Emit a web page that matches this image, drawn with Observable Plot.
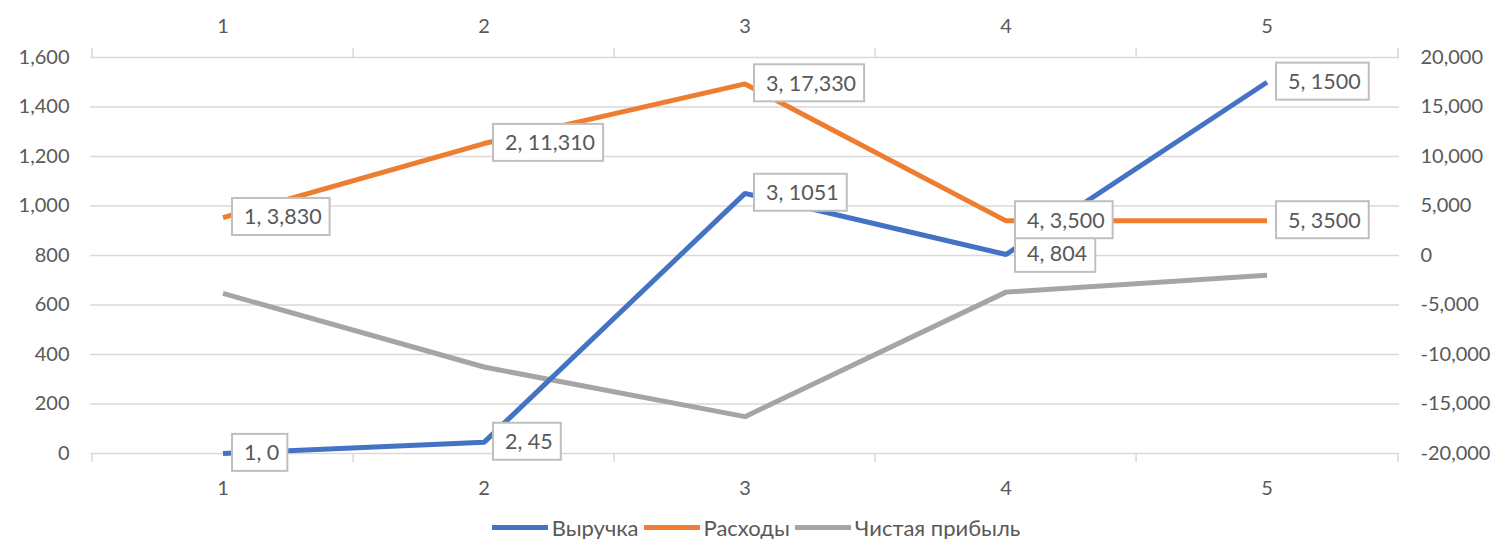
<!DOCTYPE html>
<html>
<head>
<meta charset="utf-8">
<script src="https://cdn.jsdelivr.net/npm/d3@7"></script>
<script src="https://cdn.jsdelivr.net/npm/@observablehq/plot@0.6"></script>
<style>
  body { margin: 0; background: #fff; font-family: Lato, sans-serif; }
  #chart { position: relative; width: 1496px; height: 539px; }
  #legend { position: absolute; left: 8px; top: 513px; width: 1496px; height: 28px;
            display: flex; justify-content: center; align-items: center;
            font-family: Lato, sans-serif; font-size: 22px; color: #595959; }
  .item { display: flex; align-items: center; margin: 0 2.5px; }
  .sw { display: inline-block; width: 56px; height: 5px; margin-right: 4px; }
</style>
</head>
<body>
<div id="chart"></div>
<script>
// ---- data ----
const periods = [1, 2, 3, 4, 5];
const revenue = [0, 45, 1051, 804, 1500];            // left axis
const expenses = [3830, 11310, 17330, 3500, 3500];   // right axis
const profit = [-3830, -11265, -16279, -3700, -2000]; // right axis
const revenueLabels = ["0", "45", "1051", "804", "1500"];
const expenseLabels = ["3,830", "11,310", "17,330", "3,500", "3500"];
const leftTicks = [0, 200, 400, 600, 800, 1000, 1200, 1400, 1600];
const rightTicks = [-20000, -15000, -10000, -5000, 0, 5000, 10000, 15000, 20000];
const seriesNames = ["Выручка", "Расходы", "Чистая прибыль"];
const seriesColors = ["#4472C4", "#ED7D31", "#A5A5A5"];

// ---- helpers ----
const leftDomain = [0, 1600];
const rightDomain = [-20000, 20000];
const toLeft = v => (v - rightDomain[0]) / (rightDomain[1] - rightDomain[0]) * (leftDomain[1] - leftDomain[0]) + leftDomain[0];
const fromLeft = v => Math.round((v - leftDomain[0]) / (leftDomain[1] - leftDomain[0]) * (rightDomain[1] - rightDomain[0]) + rightDomain[0]);
const fmt = v => d3.format(",")(v).replace("−", "-");

const W = 1496, H = 510;
const mL = 90, mR = 97, mT = 57, mB = 57;
const bw = (W - mL - mR) / periods.length;
const tickLen = 9 * (leftDomain[1] - leftDomain[0]) / (H - mT - mB);

const revRows = periods.map((p, i) => ({p, y: revenue[i], label: `${p}, ${revenueLabels[i]}`}));
const expRows = periods.map((p, i) => ({p, y: toLeft(expenses[i]), label: `${p}, ${expenseLabels[i]}`}));
const proRows = periods.map((p, i) => ({p, y: toLeft(profit[i])}));

const grid = "#d9d9d9";
const lineOpts = (c) => ({x: "p", y: "y", stroke: c, strokeWidth: 5, strokeLinecap: "butt", strokeLinejoin: "miter"});

const plot = Plot.plot({
  width: W, height: H,
  marginLeft: mL, marginRight: mR, marginTop: mT, marginBottom: mB,
  style: {fontFamily: "Lato, sans-serif", fontSize: "20px", color: "#595959", background: "#fff"},
  x: {type: "band", domain: periods, padding: 0},
  y: {domain: leftDomain},
  marks: [
    Plot.gridY(leftTicks, {stroke: grid, strokeOpacity: 1, strokeWidth: 1.5}),
    // category boundary ticks (top and bottom)
    Plot.ruleX(periods, {x: d => d, y1: leftDomain[1], y2: leftDomain[1] + tickLen, dx: -bw / 2, stroke: grid, strokeWidth: 1.5}),
    Plot.ruleX([periods[periods.length - 1]], {x: d => d, y1: leftDomain[1], y2: leftDomain[1] + tickLen, dx: bw / 2, stroke: grid, strokeWidth: 1.5}),
    Plot.ruleX(periods, {x: d => d, y1: leftDomain[0], y2: leftDomain[0] - tickLen, dx: -bw / 2, stroke: grid, strokeWidth: 1.5}),
    Plot.ruleX([periods[periods.length - 1]], {x: d => d, y1: leftDomain[0], y2: leftDomain[0] - tickLen, dx: bw / 2, stroke: grid, strokeWidth: 1.5}),
    Plot.axisY(leftTicks, {anchor: "left", tickSize: 0, tickPadding: 21, tickFormat: fmt, label: null, fontSize: 20}),
    Plot.axisY(rightTicks.map(toLeft), {anchor: "right", tickSize: 0, tickPadding: 21, tickFormat: d => fmt(fromLeft(d)), label: null, fontSize: 20}),
    Plot.axisX(periods, {anchor: "top", tickSize: 0, tickPadding: 25, label: null, fontSize: 20}),
    Plot.axisX(periods, {anchor: "bottom", tickSize: 0, tickPadding: 27, label: null, fontSize: 20}),
    Plot.line(proRows, lineOpts(seriesColors[2])),
    Plot.line(expRows, lineOpts(seriesColors[1])),
    Plot.line(revRows, lineOpts(seriesColors[0])),
    Plot.text(revRows, {x: "p", y: "y", text: "label", dx: 21, textAnchor: "start", fontSize: 21.5, fill: "#595959", className: "dlabel"}),
    Plot.text(expRows, {x: "p", y: "y", text: "label", dx: 21, textAnchor: "start", fontSize: 21.5, fill: "#595959", className: "dlabel"})
  ]
});

const chart = document.getElementById("chart");
chart.appendChild(plot);

// boxes behind the data labels
plot.querySelectorAll("g.dlabel text").forEach(t => {
  const b = t.getBBox();
  const r = document.createElementNS("http://www.w3.org/2000/svg", "rect");
  const cy = b.y + b.height / 2;
  r.setAttribute("x", b.x - 12);
  r.setAttribute("y", cy - 18.5);
  r.setAttribute("width", b.width + 20);
  r.setAttribute("height", 37);
  r.setAttribute("fill", "#fff");
  r.setAttribute("stroke", "#bfbfbf");
  r.setAttribute("stroke-width", 2);
  const tr = t.getAttribute("transform");
  if (tr) r.setAttribute("transform", tr);
  t.parentNode.insertBefore(r, t);
});

// legend
const legend = document.createElement("div");
legend.id = "legend";
seriesNames.forEach((n, i) => {
  const it = document.createElement("span");
  it.className = "item";
  const sw = document.createElement("span");
  sw.className = "sw";
  sw.style.background = seriesColors[i];
  const tx = document.createElement("span");
  tx.textContent = n;
  it.appendChild(sw); it.appendChild(tx);
  legend.appendChild(it);
});
chart.appendChild(legend);
</script>
</body>
</html>
